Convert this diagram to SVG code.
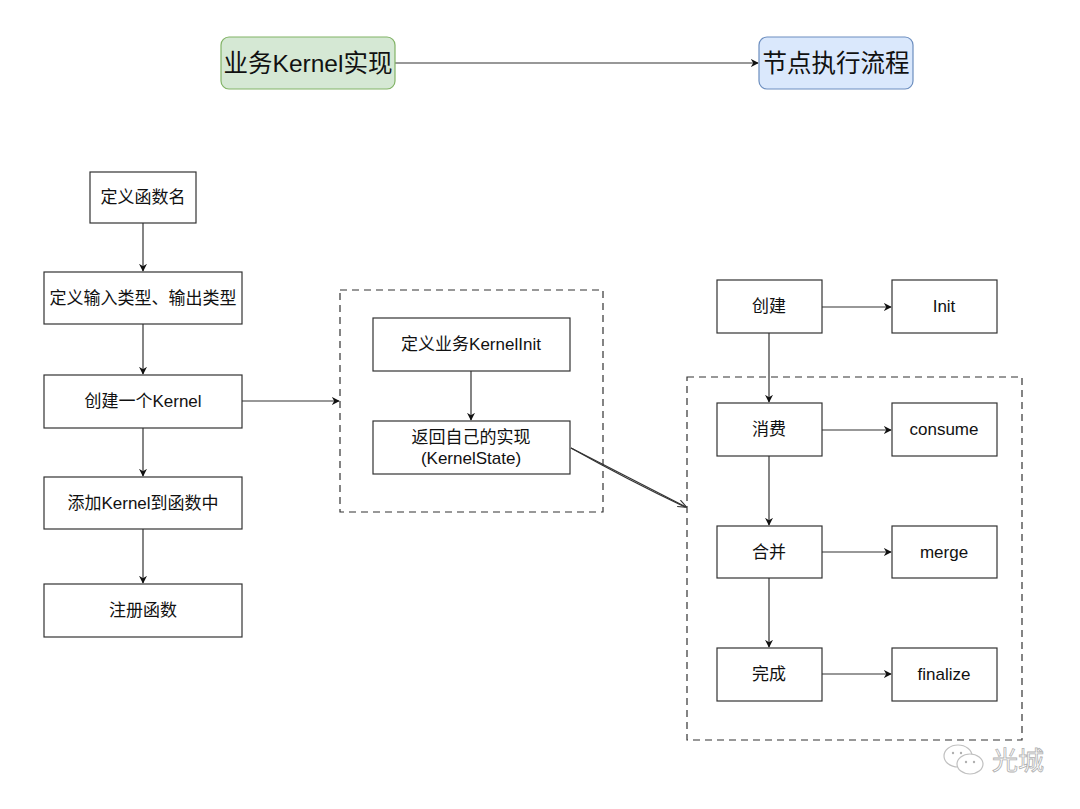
<svg xmlns="http://www.w3.org/2000/svg" width="1080" height="809" viewBox="0 0 1080 809">
<defs>
<style>
.box{fill:#ffffff;stroke:#333333;stroke-width:1.2}
.grp{fill:none;stroke:#333333;stroke-width:1.2;stroke-dasharray:7 5}
.t{font-family:"Liberation Sans","Noto Sans CJK SC",sans-serif;font-size:17px;fill:#111111;text-anchor:middle;dominant-baseline:central}
.tl{font-family:"Liberation Sans","Noto Sans CJK SC",sans-serif;font-size:24.5px;fill:#111111;text-anchor:middle;dominant-baseline:central}
.ln{fill:none;stroke:#333333;stroke-width:1.2}
.wm{font-family:"Noto Sans CJK SC",sans-serif;font-size:26px;fill:#ffffff;stroke:#b0b0b0;stroke-width:0.8}
</style>
<marker id="ar" viewBox="0 0 10 10" refX="9" refY="5" markerWidth="8" markerHeight="8" orient="auto" markerUnits="userSpaceOnUse">
<path d="M0,0 L10,5 L0,10 L3,5 Z" fill="#111111"/>
</marker>
<marker id="ao" viewBox="0 0 10 10" refX="9" refY="5" markerWidth="9" markerHeight="9" orient="auto" markerUnits="userSpaceOnUse">
<path d="M0,1 L10,5 L0,9" fill="none" stroke="#333333" stroke-width="1.2"/>
</marker>
</defs>
<rect width="1080" height="809" fill="#ffffff"/>

<g id="groups">
<rect id="group-kernel" class="grp" x="340" y="290" width="263" height="222"/>
<rect id="group-exec" class="grp" x="687" y="377" width="335" height="363"/>
</g>

<g id="connectors">
<line class="ln" x1="395" y1="63" x2="758" y2="63" marker-end="url(#ar)"/>
<line class="ln" x1="143" y1="223" x2="143" y2="271" marker-end="url(#ar)"/>
<line class="ln" x1="143" y1="324" x2="143" y2="374" marker-end="url(#ar)"/>
<line class="ln" x1="143" y1="428" x2="143" y2="476" marker-end="url(#ar)"/>
<line class="ln" x1="143" y1="529" x2="143" y2="583" marker-end="url(#ar)"/>
<line class="ln" x1="242" y1="401" x2="339" y2="401" marker-end="url(#ar)"/>
<line class="ln" x1="471" y1="371" x2="471" y2="420" marker-end="url(#ar)"/>
<path class="ln" d="M571,448 L686,507" marker-end="url(#ao)"/>
<path class="ln" d="M571,448 Q628,480 685,507"/>
<line class="ln" x1="769" y1="333" x2="769" y2="402" marker-end="url(#ar)"/>
<line class="ln" x1="769" y1="456" x2="769" y2="525" marker-end="url(#ar)"/>
<line class="ln" x1="769" y1="578" x2="769" y2="647" marker-end="url(#ar)"/>
<line class="ln" x1="822" y1="307" x2="891" y2="307" marker-end="url(#ar)"/>
<line class="ln" x1="822" y1="430" x2="891" y2="430" marker-end="url(#ar)"/>
<line class="ln" x1="822" y1="552" x2="891" y2="552" marker-end="url(#ar)"/>
<line class="ln" x1="822" y1="674" x2="891" y2="674" marker-end="url(#ar)"/>
</g>

<g id="n-biz">
<rect x="221" y="37" width="174" height="52" rx="8" fill="#d5e8d4" stroke="#82b366" stroke-width="1.2"/>
<text class="tl" x="308" y="63">业务Kernel实现</text>
</g>
<g id="n-flow">
<rect x="759" y="37" width="154" height="52" rx="8" fill="#dae8fc" stroke="#6c8ebf" stroke-width="1.2"/>
<text class="tl" x="836" y="63">节点执行流程</text>
</g>

<g id="n-def-name">
<rect class="box" x="90" y="172" width="106" height="51"/>
<text class="t" x="143" y="197">定义函数名</text>
</g>
<g id="n-def-type">
<rect class="box" x="44" y="272" width="198" height="52"/>
<text class="t" x="143" y="298">定义输入类型、输出类型</text>
</g>
<g id="n-create-kernel">
<rect class="box" x="44" y="375" width="198" height="53"/>
<text class="t" x="143" y="401">创建一个Kernel</text>
</g>
<g id="n-add-kernel">
<rect class="box" x="44" y="477" width="198" height="52"/>
<text class="t" x="143" y="503">添加Kernel到函数中</text>
</g>
<g id="n-register">
<rect class="box" x="44" y="584" width="198" height="53"/>
<text class="t" x="143" y="610">注册函数</text>
</g>

<g id="n-kernel-init">
<rect class="box" x="373" y="318" width="197" height="53"/>
<text class="t" x="471" y="344">定义业务KernelInit</text>
</g>
<g id="n-return-state">
<rect class="box" x="373" y="421" width="197" height="53"/>
<text class="t" x="471" y="437">返回自己的实现</text>
<text class="t" x="471" y="458">(KernelState)</text>
</g>

<g id="n-create">
<rect class="box" x="717" y="280" width="105" height="53"/>
<text class="t" x="769" y="306">创建</text>
</g>
<g id="n-init">
<rect class="box" x="892" y="280" width="105" height="53"/>
<text class="t" x="944" y="306">Init</text>
</g>
<g id="n-consume-cn">
<rect class="box" x="717" y="403" width="105" height="53"/>
<text class="t" x="769" y="429">消费</text>
</g>
<g id="n-consume">
<rect class="box" x="892" y="403" width="105" height="53"/>
<text class="t" x="944" y="429">consume</text>
</g>
<g id="n-merge-cn">
<rect class="box" x="717" y="526" width="105" height="52"/>
<text class="t" x="769" y="552">合并</text>
</g>
<g id="n-merge">
<rect class="box" x="892" y="526" width="105" height="52"/>
<text class="t" x="944" y="552">merge</text>
</g>
<g id="n-finish-cn">
<rect class="box" x="717" y="648" width="105" height="53"/>
<text class="t" x="769" y="674">完成</text>
</g>
<g id="n-finalize">
<rect class="box" x="892" y="648" width="105" height="53"/>
<text class="t" x="944" y="674">finalize</text>
</g>

<g id="watermark">
<ellipse cx="958" cy="756" rx="14" ry="11" fill="#ffffff" stroke="#c0c0c0" stroke-width="1.2"/>
<ellipse cx="970" cy="764" rx="13" ry="10" fill="#ffffff" stroke="#c0c0c0" stroke-width="1.2"/>
<circle cx="953" cy="753" r="1.2" fill="#b0b0b0"/>
<circle cx="961" cy="753" r="1.2" fill="#b0b0b0"/>
<circle cx="966" cy="762" r="1.2" fill="#b0b0b0"/>
<circle cx="974" cy="762" r="1.2" fill="#b0b0b0"/>
<text class="wm" x="992" y="770">光城</text>
</g>
</svg>
